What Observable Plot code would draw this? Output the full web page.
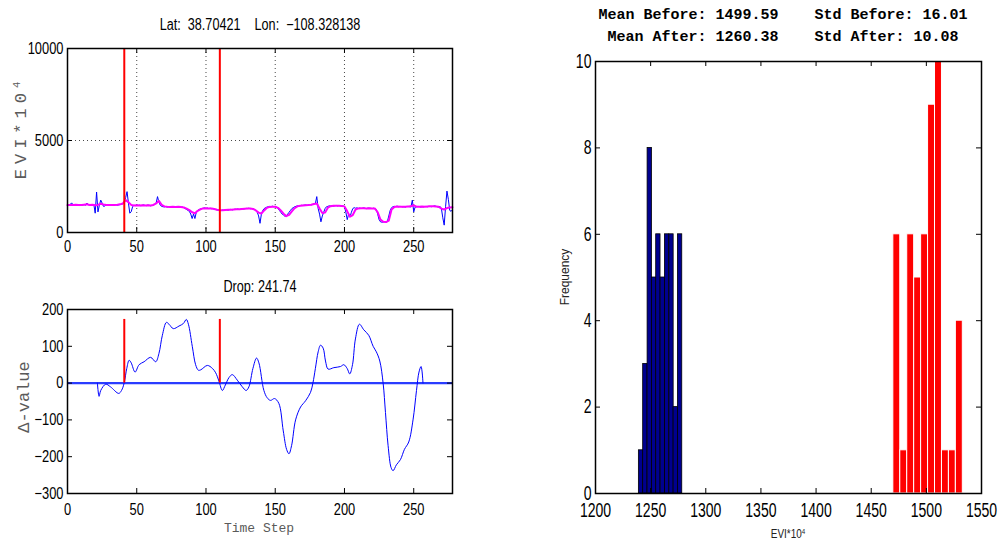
<!DOCTYPE html>
<html>
<head>
<meta charset="utf-8">
<script src="https://cdn.jsdelivr.net/npm/d3@7"></script>
<script src="https://cdn.jsdelivr.net/npm/@observablehq/plot@0.6"></script>
<style>
  body { margin: 0; background: #fff; }
  #fig { position: relative; width: 998px; height: 541px; overflow: hidden; background: #fff; }
  #fig svg { position: absolute; }
  .lbl { position: absolute; white-space: pre; line-height: 1; }
  .lbl sup { font-size: 0.62em; vertical-align: 0.55em; line-height: 0; }
</style>
</head>
<body>
<div id="fig"></div>
<script>
// ---- Pixel time series (EVI*10^4), time steps 1..278
const rawEVI = [
  1480,1530,1610,1500,1470,1520,1490,1510,1460,1500,
  1490,1520,1480,1600,1510,1470,1500,1490,1530,1050,
  2200,1120,1480,1760,1600,1420,1440,1500,1470,1490,
  1480,1500,1470,1490,1510,1480,1500,1520,1540,1560,
  1700,1900,2220,1600,1050,1130,1400,1480,1460,1500,
  1470,1490,1450,1480,1500,1470,1460,1490,1480,1450,
  1470,1490,1520,1600,1950,1650,1480,1420,1400,1390,
  1410,1380,1400,1390,1370,1400,1410,1380,1390,1400,
  1390,1360,1380,1350,1300,1250,1200,1150,1000,760,
  1000,760,1100,1200,1250,1280,1300,1320,1340,1310,
  1330,1300,1320,1290,1300,1270,1250,1230,1220,1200,
  1190,1220,1200,1250,1230,1210,1240,1260,1230,1250,
  1270,1260,1280,1250,1270,1300,1280,1290,1310,1300,
  1320,1290,1300,1280,1250,1200,1100,900,500,1000,
  1200,1300,1350,1380,1400,1420,1410,1430,1400,1420,
  1380,1300,1200,1100,1000,950,880,900,1000,1100,
  1200,1300,1350,1400,1420,1450,1440,1460,1480,1470,
  1490,1500,1480,1510,1520,1500,1530,1560,1580,1950,
  1300,1000,580,900,1100,1300,1400,1420,1450,1440,
  1460,1430,1450,1470,1440,1460,1450,1430,1440,1400,
  1100,700,1000,850,1100,1300,1350,1320,1340,1310,
  1330,1300,1320,1340,1310,1300,1330,1320,1310,1300,
  1320,1290,1250,1000,700,580,560,570,580,560,
  600,900,1200,1350,1400,1420,1410,1430,1400,1420,
  1410,1390,1400,1380,1420,1410,1400,1390,1760,1120,
  1380,1400,1420,1410,1380,1400,1390,1420,1410,1400,
  1430,1410,1400,1420,1450,1430,1400,1380,1420,1300,
  800,400,1400,2250,1800,1200,1150,1250
];

// Smoothed series, every second time step 0..278
const smoothEVI = [
  1490,1500,1490,1510,1500,1490,1510,1530,1500,1510,
  1480,1500,1560,1520,1490,1500,1490,1500,1510,1530,
  1580,1760,1650,1500,1470,1480,1470,1480,1470,1480,
  1470,1500,1580,1720,1500,1420,1400,1390,1400,1390,
  1400,1380,1360,1300,1220,1100,1050,1180,1260,1310,
  1320,1310,1300,1280,1240,1210,1210,1220,1230,1240,
  1250,1260,1270,1280,1290,1300,1300,1280,1200,1080,
  1030,1200,1340,1390,1400,1400,1340,1200,1020,890,
  960,1150,1320,1420,1450,1470,1480,1490,1510,1550,
  1580,1300,1060,1080,1350,1430,1450,1450,1450,1440,
  1420,1150,860,950,1250,1310,1320,1320,1310,1320,
  1310,1300,1100,700,580,570,650,1250,1390,1410,
  1400,1400,1400,1410,1420,1480,1400,1400,1410,1400,
  1410,1420,1420,1410,1400,1300,1250,1330,1360,1370
];

// Change-window boundaries (time steps)
const breakSteps = [41, 110];

// Delta-value curve
const deltaSteps = [
  21.6,22.8,24,27.6,31,37,39,40.9,42.8,44.5,46,48.8,51.7,55.3,60,63.7,66,68.5,71.4,73.3,
  76.4,80.5,83.7,85.8,87.3,90.1,92.5,94.5,96.2,101,104.6,107,109.4,111.8,114,116.6,119,122.6,126.2,129,
  131,133.9,136.5,138.2,141.8,144.2,146.6,149.5,152.6,155.8,158.2,159.9,161.8,164.7,168.3,171.9,175.5,177.2,179,181,
  182.7,184.6,186.3,188.2,192.3,197.1,199.5,201.9,203.8,205.8,207.9,210.8,213.9,217.5,220.7,223,225.5,227.9,229.6,231.5,
  233.7,235.1,237.5,240.4,243.3,246.4,249.5,252,253.8,255.3,256.7
];
const deltaValues = [
  0,-36,-20,-3,-10,-28,-20,0,40,62,55,30,50,58,70,58,80,130,165,160,
  148,155,162,173,160,100,50,35,36,48,40,28,5,-20,-5,15,23,8,-10,-20,
  -10,40,68,55,-20,-40,-47,-42,-55,-130,-180,-192,-170,-100,-65,-48,-25,0,40,85,
  103,95,60,38,42,45,50,40,25,50,120,160,145,130,100,85,60,0,-80,-170,
  -230,-238,-222,-208,-180,-160,-100,-20,30,45,0
];

// Histogram bins (centres) and counts
const afterCenters  = [1241.3,1245.2,1249.2,1253.1,1257.0,1261.0,1264.9,1268.9,1272.8,1276.7];
const afterCounts   = [1,3,8,5,6,5,6,6,2,6];
const beforeCenters = [1473.2,1479.5,1485.8,1492.1,1498.4,1504.7,1511.0,1517.3,1523.6,1529.9];
const beforeCounts  = [6,1,6,5,6,9,10,1,1,4];

// Tick values
const timeTicks  = [0,50,100,150,200,250];
const eviTicks   = [0,5000,10000];
const deltaTicks = [-300,-200,-100,0,100,200];
const binTicks   = [1200,1250,1300,1350,1400,1450,1500,1550];
const freqTicks  = [0,2,4,6,8,10];

// Text
const titleTop   = "Lat:  38.70421    Lon:  \u2212108.328138";
const titleDelta = "Drop: 241.74";
const statsLines = ["Mean Before: 1499.59    Std Before: 16.01",
                    "Mean After: 1260.38    Std After: 10.08"];

const fmt = d => d < 0 ? "\u2212" + Math.abs(d) : String(d);
const sans = "'Liberation Sans', Arial, Helvetica, sans-serif";
const mono = "'Liberation Mono', 'DejaVu Sans Mono', monospace";
const fig = document.getElementById("fig");

// inward ticks on all four sides of the frame
function boxTicks(xt, yt, w, h, len = 5) {
  return [
    Plot.ruleX(xt, {insetTop: h - len, stroke: "#000"}),
    Plot.ruleX(xt, {insetBottom: h - len, stroke: "#000"}),
    Plot.ruleY(yt, {insetRight: w - len, stroke: "#000"}),
    Plot.ruleY(yt, {insetLeft: w - len, stroke: "#000"})
  ];
}

// squeeze tick labels horizontally (condensed Helvetica look); needs the svg in the DOM
function condense(svg, k) {
  svg.querySelectorAll("text").forEach(t => {
    const L = t.getComputedTextLength();
    if (L > 0) {
      t.setAttribute("textLength", (L * k).toFixed(2));
      t.setAttribute("lengthAdjust", "spacingAndGlyphs");
    }
  });
}

function place(svg, left, top, k) {
  svg.style.left = left + "px";
  svg.style.top = top + "px";
  fig.append(svg);
  condense(svg, k);
}

function label(text, x, y, css, {rotate = false, sup = null, sx = 1} = {}) {
  const d = document.createElement("div");
  d.className = "lbl";
  d.textContent = text;
  if (sup) { const s = document.createElement("sup"); s.textContent = sup; d.append(s); }
  Object.assign(d.style, {
    left: x + "px", top: y + "px",
    transform: "translate(-50%,-50%)" + (rotate ? " rotate(-90deg)" : "") + (sx !== 1 ? ` scaleX(${sx})` : "")
  }, css);
  fig.append(d);
}

// ---- Panel 1: EVI time series
{
  const width = 470, height = 260, ml = 67, mr = 18, mt = 48, mb = 28;
  const svg = Plot.plot({
    width, height, marginLeft: ml, marginRight: mr, marginTop: mt, marginBottom: mb,
    style: {fontFamily: sans, fontSize: "16.5px", color: "#000", background: "transparent", overflow: "visible"},
    x: {domain: [0, 278], ticks: timeTicks, tickSize: 0, tickPadding: 8, label: null, tickFormat: fmt},
    y: {domain: [0, 10000], ticks: eviTicks, tickSize: 0, tickPadding: 4, label: null, tickFormat: fmt},
    marks: [
      Plot.ruleX(timeTicks.filter(d => d > 0), {stroke: "#333", strokeDasharray: "1,3", strokeWidth: 0.9}),
      Plot.ruleY([5000], {stroke: "#333", strokeDasharray: "1,3", strokeWidth: 0.9}),
      Plot.line(rawEVI, {x: (d, i) => i + 1, y: d => d, stroke: "#0000ff", strokeWidth: 1}),
      Plot.line(smoothEVI, {x: (d, i) => i * 2, y: d => d, stroke: "#ff00ff", strokeWidth: 2}),
      Plot.ruleX(breakSteps, {stroke: "#ff0000", strokeWidth: 2}),
      ...boxTicks(timeTicks, eviTicks, width - ml - mr, height - mt - mb),
      Plot.frame({stroke: "#000", strokeWidth: 1.5})
    ]
  });
  place(svg, 0, 0, 0.78);
}

// ---- Panel 2: delta values
{
  const width = 470, height = 271, ml = 67, mr = 18, mt = 39, mb = 48;
  const svg = Plot.plot({
    width, height, marginLeft: ml, marginRight: mr, marginTop: mt, marginBottom: mb,
    style: {fontFamily: sans, fontSize: "16.5px", color: "#000", background: "transparent", overflow: "visible"},
    x: {domain: [0, 278], ticks: timeTicks, tickSize: 0, tickPadding: 10, label: null, tickFormat: fmt},
    y: {domain: [-300, 200], ticks: deltaTicks, tickSize: 0, tickPadding: 4, label: null, tickFormat: fmt},
    marks: [
      Plot.ruleY([0], {stroke: "#2a3cff", strokeWidth: 2.2}),
      Plot.line(deltaValues, {x: (d, i) => deltaSteps[i], y: d => d, stroke: "#0000ff", strokeWidth: 1, curve: "catmull-rom"}),
      Plot.ruleX(breakSteps, {y1: 0, y2: d3.max(deltaValues), stroke: "#ff0000", strokeWidth: 2}),
      ...boxTicks(timeTicks, deltaTicks, width - ml - mr, height - mt - mb),
      Plot.frame({stroke: "#000", strokeWidth: 1.5})
    ]
  });
  place(svg, 0, 270, 0.78);
}

// ---- Panel 3: histograms before / after
{
  const width = 458, height = 541, ml = 55, mr = 17, mt = 61, mb = 48;
  const wAfter = (afterCenters[afterCenters.length - 1] - afterCenters[0]) / (afterCenters.length - 1);
  const wBefore = (beforeCenters[beforeCenters.length - 1] - beforeCenters[0]) / (beforeCenters.length - 1);
  const svg = Plot.plot({
    width, height, marginLeft: ml, marginRight: mr, marginTop: mt, marginBottom: mb,
    style: {fontFamily: sans, fontSize: "19.5px", color: "#000", background: "transparent", overflow: "visible"},
    x: {domain: [1200, 1550], ticks: binTicks, tickSize: 0, tickPadding: 10, label: null, tickFormat: fmt},
    y: {domain: [0, 10], ticks: freqTicks, tickSize: 0, tickPadding: 4, label: null, tickFormat: fmt},
    marks: [
      Plot.rect(afterCounts, {
        x1: (d, i) => afterCenters[i] - wAfter / 2, x2: (d, i) => afterCenters[i] + wAfter / 2,
        y1: 0, y2: d => d, fill: "#00008f", stroke: "#000", strokeWidth: 0.8, inset: 0
      }),
      Plot.rect(beforeCounts, {
        x1: (d, i) => beforeCenters[i] - wBefore / 2, x2: (d, i) => beforeCenters[i] + wBefore / 2,
        y1: 0, y2: d => d, fill: "#ff0000", stroke: "#fff", strokeWidth: 1, inset: 0
      }),
      ...boxTicks(binTicks, freqTicks, width - ml - mr, height - mt - mb),
      Plot.frame({stroke: "#000", strokeWidth: 1.5})
    ]
  });
  place(svg, 540, 0, 0.72);
}

// ---- Titles and axis labels
const gray = "#5a5a5a";
label(titleTop, 259.5, 25, {fontFamily: sans, fontSize: "16px", color: "#000"}, {sx: 0.79});
label(titleDelta, 259.5, 287, {fontFamily: sans, fontSize: "16px", color: "#000"}, {sx: 0.79});
label("EVI*10", 21, 128, {fontFamily: mono, fontSize: "17px", letterSpacing: "5px", color: gray}, {rotate: true, sup: "4"});
label("\u0394-value", 24, 397, {fontFamily: mono, fontSize: "17px", color: gray}, {rotate: true});
label("Time Step", 259, 528, {fontFamily: mono, fontSize: "13px", color: gray});
label(statsLines[0], 783, 15, {fontFamily: mono, fontSize: "15px", fontWeight: "bold", color: "#000"});
label(statsLines[1], 783, 37, {fontFamily: mono, fontSize: "15px", fontWeight: "bold", color: "#000"});
label("Frequency", 565, 277, {fontFamily: sans, fontSize: "12px", color: "#222"}, {rotate: true});
label("EVI*10", 788, 534, {fontFamily: sans, fontSize: "12px", color: "#222"}, {sup: "4", sx: 0.83});
</script>
</body>
</html>
